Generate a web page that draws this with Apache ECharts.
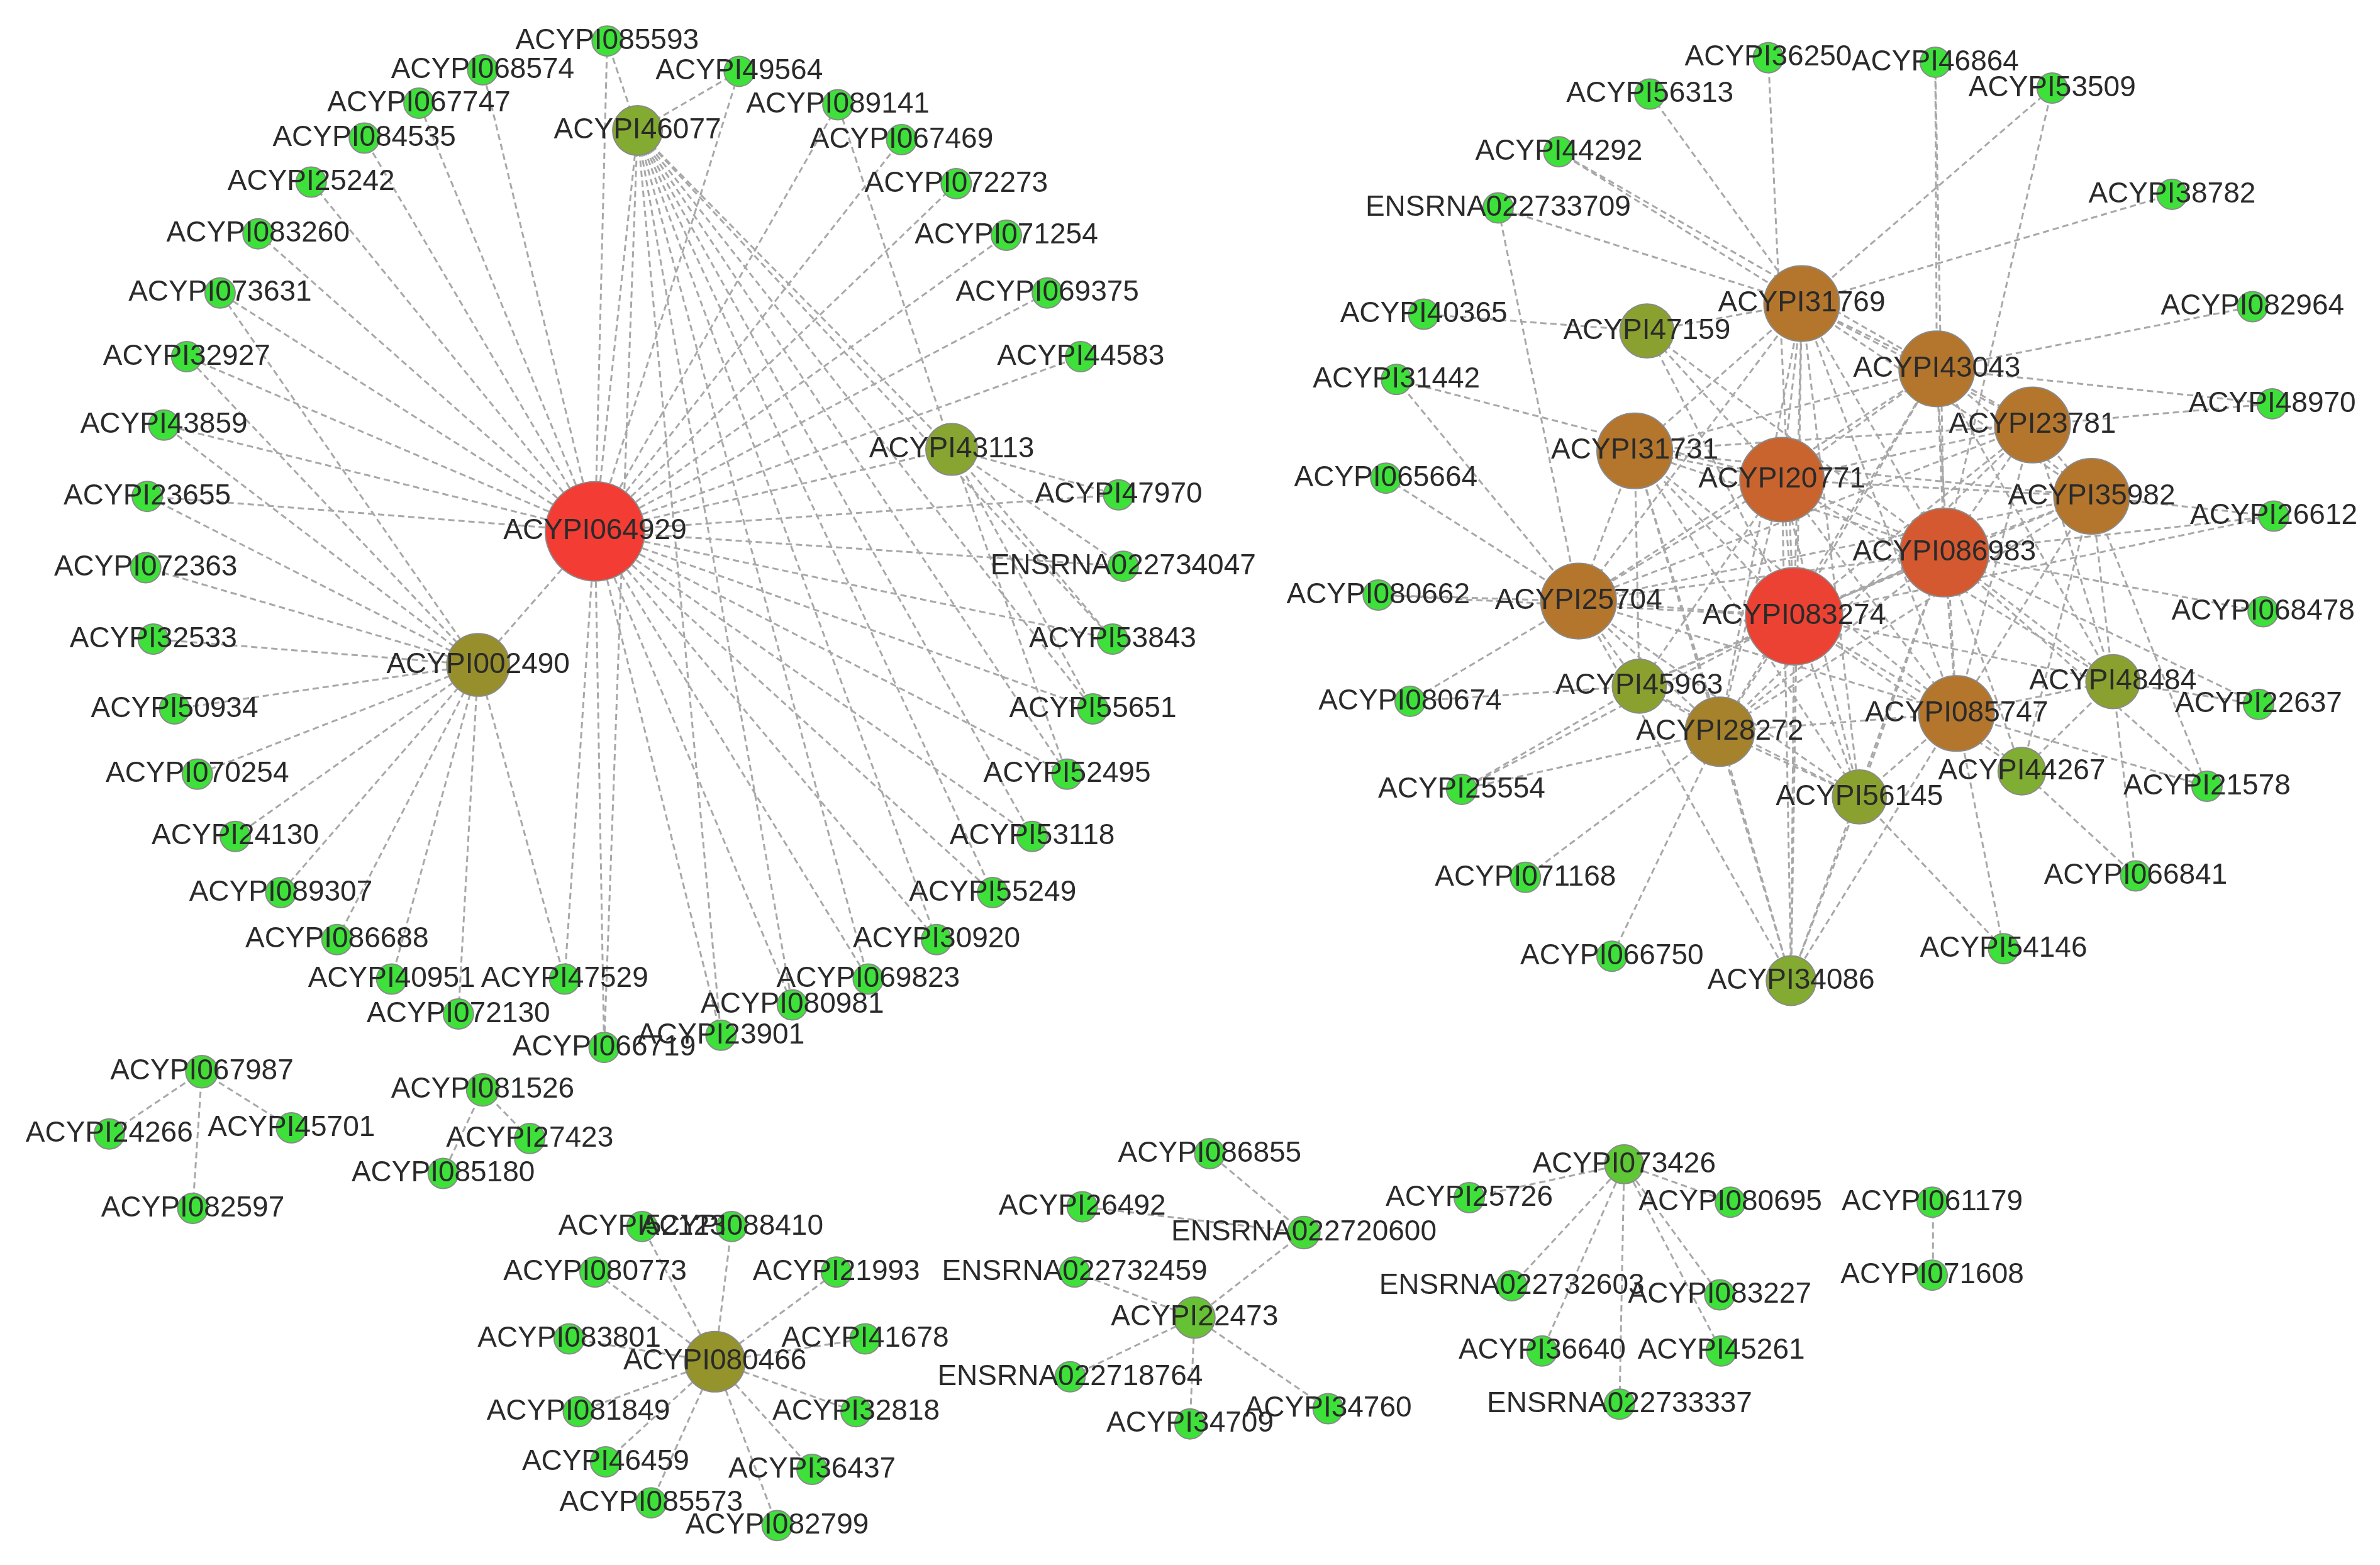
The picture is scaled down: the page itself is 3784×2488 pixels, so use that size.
<!DOCTYPE html>
<html><head><meta charset="utf-8">
<script src="https://cdn.jsdelivr.net/npm/echarts@6/dist/echarts.min.js"></script>
<style>html,body{margin:0;padding:0;background:#fff}#c{width:3784px;height:2488px}</style>
</head><body><div id="c"></div>
<script>
// node name, x, y (layout coordinates), degree score
const nodeNames = ["ACYPI085593","ACYPI068574","ACYPI49564","ACYPI067747","ACYPI089141","ACYPI46077","ACYPI084535","ACYPI067469","ACYPI25242","ACYPI072273","ACYPI083260","ACYPI071254","ACYPI073631","ACYPI069375","ACYPI32927","ACYPI44583","ACYPI43859","ACYPI43113","ACYPI23655","ACYPI47970","ACYPI072363","ACYPI064929","ENSRNA022734047","ACYPI32533","ACYPI53843","ACYPI002490","ACYPI50934","ACYPI55651","ACYPI070254","ACYPI52495","ACYPI24130","ACYPI53118","ACYPI089307","ACYPI55249","ACYPI086688","ACYPI30920","ACYPI40951","ACYPI47529","ACYPI069823","ACYPI072130","ACYPI080981","ACYPI23901","ACYPI066719",
"ACYPI067987","ACYPI24266","ACYPI45701","ACYPI082597","ACYPI081526","ACYPI27423","ACYPI085180",
"ACYPI080466","ACYPI52123","ACYPI088410","ACYPI080773","ACYPI21993","ACYPI083801","ACYPI41678","ACYPI081849","ACYPI32818","ACYPI46459","ACYPI36437","ACYPI085573","ACYPI082799",
"ACYPI086855","ACYPI26492","ENSRNA022720600","ENSRNA022732459","ACYPI22473","ENSRNA022718764","ACYPI34709","ACYPI34760",
"ACYPI073426","ACYPI25726","ACYPI080695","ENSRNA022732603","ACYPI083227","ACYPI36640","ACYPI45261","ENSRNA022733337","ACYPI061179","ACYPI071608",
"ACYPI36250","ACYPI46864","ACYPI56313","ACYPI53509","ACYPI44292","ACYPI38782","ENSRNA022733709","ACYPI31769","ACYPI40365","ACYPI47159","ACYPI082964","ACYPI43043","ACYPI31442","ACYPI23781","ACYPI48970","ACYPI31731","ACYPI20771","ACYPI065664","ACYPI35982","ACYPI26612","ACYPI086983","ACYPI080662","ACYPI25704","ACYPI083274","ACYPI068478","ACYPI48484","ACYPI45963","ACYPI22637","ACYPI080674","ACYPI085747","ACYPI28272","ACYPI44267","ACYPI21578","ACYPI25554","ACYPI56145","ACYPI071168","ACYPI066841","ACYPI54146","ACYPI066750","ACYPI34086"];
const nodeX = [400,318,487,276,552,420,240,594,205,630,170,663,145,690,123,712,108,627,97,737,96,392,740,101,733,315,115,720,130,703,155,680,185,654,222,617,258,372,572,302,522,475,398,
133,72,192,127,318,349,292,
471,423,482,392,551,375,570,381,564,399,535,429,512,
797,713,859,708,787,705,784,875,
1070,968,1140,996,1133,1016,1134,1067,1273,1273,
1165,1275,1087,1352,1027,1431,987,1187,938,1085,1484,1276,920,1339,1497,1077,1174,913,1378,1498,1281,908,1040,1182,1491,1392,1080,1488,929,1289,1133,1332,1454,963,1225,1005,1407,1320,1062,1180];
const nodeY = [27,46,47,68,69,86,91,92,120,121,154,155,193,193,235,235,280,296,327,326,374,350,373,421,421,438,467,467,510,510,551,551,588,588,619,619,645,645,645,668,662,682,690,
706,747,743,796,718,750,773,
897,808,808,838,838,882,882,930,930,963,968,990,1005,
760,795,812,838,868,907,938,928,
767,789,792,847,853,890,890,925,792,840,
38,41,62,58,100,128,137,200,207,218,202,243,250,280,266,297,316,315,327,340,364,392,396,406,403,449,452,464,462,470,482,508,518,520,525,578,577,625,630,646];
const nodeScore = [1,1,1,1,1,10,1,1,1,1,1,1,1,1,1,1,1,11,1,1,1,33,1,1,1,16,1,1,1,1,1,1,1,1,1,1,1,1,1,1,1,1,1,
2,1,1,1,2,1,1,
15,1,1,1,1,1,1,1,1,1,1,1,1,
1,1,2,1,6,1,1,1,
5,1,1,1,1,1,1,1,1,1,
1,1,1,1,1,1,1,22,1,12,1,22,1,22,1,22,26,1,22,1,28,1,22,32,1,12,12,1,1,22,19,9,1,1,12,1,1,1,1,10];
// edges: source -> list of targets
const edgeLists = [
 ["ACYPI064929","ACYPI085593 ACYPI068574 ACYPI067747 ACYPI084535 ACYPI25242 ACYPI083260 ACYPI073631 ACYPI32927 ACYPI49564 ACYPI089141 ACYPI067469 ACYPI072273 ACYPI071254 ACYPI069375 ACYPI44583 ACYPI43113 ACYPI47970 ENSRNA022734047 ACYPI53843 ACYPI55651 ACYPI52495 ACYPI53118 ACYPI55249 ACYPI30920 ACYPI069823 ACYPI080981 ACYPI23901 ACYPI066719 ACYPI47529 ACYPI46077 ACYPI002490 ACYPI23655 ACYPI43859"],
 ["ACYPI002490","ACYPI43859 ACYPI23655 ACYPI072363 ACYPI32533 ACYPI50934 ACYPI070254 ACYPI24130 ACYPI089307 ACYPI086688 ACYPI40951 ACYPI072130 ACYPI47529 ACYPI32927 ACYPI073631"],
 ["ACYPI46077","ACYPI085593 ACYPI49564 ACYPI43113 ACYPI53843 ACYPI55651 ACYPI52495 ACYPI53118 ACYPI55249 ACYPI30920 ACYPI069823 ACYPI080981 ACYPI23901 ACYPI066719"],
 ["ACYPI43113","ACYPI089141 ACYPI47970 ENSRNA022734047 ACYPI53843 ACYPI55651 ACYPI52495"],
 ["ACYPI067987","ACYPI24266 ACYPI45701 ACYPI082597"],
 ["ACYPI081526","ACYPI27423 ACYPI085180"],
 ["ACYPI080466","ACYPI52123 ACYPI088410 ACYPI080773 ACYPI21993 ACYPI083801 ACYPI41678 ACYPI081849 ACYPI32818 ACYPI46459 ACYPI36437 ACYPI085573 ACYPI082799"],
 ["ENSRNA022720600","ACYPI086855 ACYPI26492 ACYPI22473"],
 ["ACYPI22473","ENSRNA022732459 ENSRNA022718764 ACYPI34709 ACYPI34760"],
 ["ACYPI073426","ACYPI25726 ACYPI080695 ENSRNA022732603 ACYPI083227 ACYPI36640 ACYPI45261 ENSRNA022733337"],
 ["ACYPI061179","ACYPI071608"],
 ["ACYPI083274","ACYPI31769 ACYPI43043 ACYPI23781 ACYPI31731 ACYPI20771 ACYPI35982 ACYPI086983 ACYPI25704 ACYPI085747 ACYPI28272 ACYPI48484 ACYPI45963 ACYPI56145 ACYPI34086 ACYPI44267 ACYPI47159 ACYPI36250 ACYPI26612 ACYPI080662 ACYPI25554"],
 ["ACYPI086983","ACYPI31769 ACYPI43043 ACYPI23781 ACYPI31731 ACYPI20771 ACYPI35982 ACYPI25704 ACYPI085747 ACYPI28272 ACYPI48484 ACYPI45963 ACYPI56145 ACYPI34086 ACYPI44267 ACYPI47159 ACYPI46864 ACYPI53509 ACYPI26612 ACYPI068478 ACYPI22637 ACYPI21578"],
 ["ACYPI20771","ACYPI31769 ACYPI43043 ACYPI23781 ACYPI31731 ACYPI35982 ACYPI25704 ACYPI085747 ACYPI28272 ACYPI48484 ACYPI45963 ACYPI56145 ACYPI34086 ACYPI47159 ACYPI31442"],
 ["ACYPI31769","ACYPI43043 ACYPI23781 ACYPI31731 ACYPI35982 ACYPI25704 ACYPI085747 ACYPI28272 ACYPI56145 ACYPI34086 ACYPI47159 ACYPI56313 ACYPI53509 ACYPI44292 ACYPI38782 ENSRNA022733709"],
 ["ACYPI43043","ACYPI23781 ACYPI31731 ACYPI35982 ACYPI25704 ACYPI085747 ACYPI28272 ACYPI48484 ACYPI46864 ACYPI44292 ACYPI082964 ACYPI48970"],
 ["ACYPI23781","ACYPI31731 ACYPI35982 ACYPI25704 ACYPI085747 ACYPI28272 ACYPI48970 ACYPI48484"],
 ["ACYPI31731","ACYPI35982 ACYPI25704 ACYPI085747 ACYPI28272 ACYPI45963 ACYPI56145 ACYPI34086"],
 ["ACYPI35982","ACYPI25704 ACYPI085747 ACYPI28272 ACYPI48484 ACYPI26612 ACYPI21578 ACYPI44267"],
 ["ACYPI25704","ACYPI085747 ACYPI28272 ACYPI45963 ACYPI56145 ACYPI34086 ACYPI065664 ACYPI080662 ACYPI080674 ACYPI31442 ENSRNA022733709"],
 ["ACYPI085747","ACYPI28272 ACYPI48484 ACYPI56145 ACYPI34086 ACYPI44267 ACYPI21578 ACYPI54146"],
 ["ACYPI28272","ACYPI45963 ACYPI56145 ACYPI34086 ACYPI25554 ACYPI071168 ACYPI066750"],
 ["ACYPI45963","ACYPI080674 ACYPI25554 ACYPI56145"],
 ["ACYPI48484","ACYPI22637 ACYPI066841 ACYPI44267"],
 ["ACYPI44267","ACYPI066841"],
 ["ACYPI56145","ACYPI54146 ACYPI34086"],
 ["ACYPI47159","ACYPI40365"]
];
const nodes = nodeNames.map((n,i)=>({name:n,x:nodeX[i],y:nodeY[i],value:nodeScore[i]}));
const links = [];
edgeLists.forEach(([s,t])=>t.split(" ").forEach(x=>links.push({source:s,target:x})));
const s = 3784/1568;
const minX=Math.min(...nodeX),maxX=Math.max(...nodeX),minY=Math.min(...nodeY),maxY=Math.max(...nodeY);
const chart = echarts.init(document.getElementById('c'));
chart.setOption({
  backgroundColor:'#fff',
  animation:false,
  visualMap:{show:false,type:'continuous',seriesIndex:0,min:1,max:33,
    inRange:{color:['#3ee03a','#80ae32','#9a8a2a','#c46a2e','#f23c34'],symbolSize:[48,158]}},
  series:[{
    type:'graph',layout:'none',
    left:minX*s,top:minY*s,width:(maxX-minX)*s,height:(maxY-minY)*s,
    data:nodes,links:links,
    itemStyle:{borderColor:'#8a8a8a',borderWidth:2},
    lineStyle:{color:'#a8a8a8',width:3,type:[10,6],opacity:1,curveness:0},
    label:{show:true,position:'inside',color:'#2a2a2a',fontSize:46,fontFamily:'Liberation Sans, Arial, sans-serif'},
    emphasis:{disabled:true}
  }]
});
</script></body></html>
